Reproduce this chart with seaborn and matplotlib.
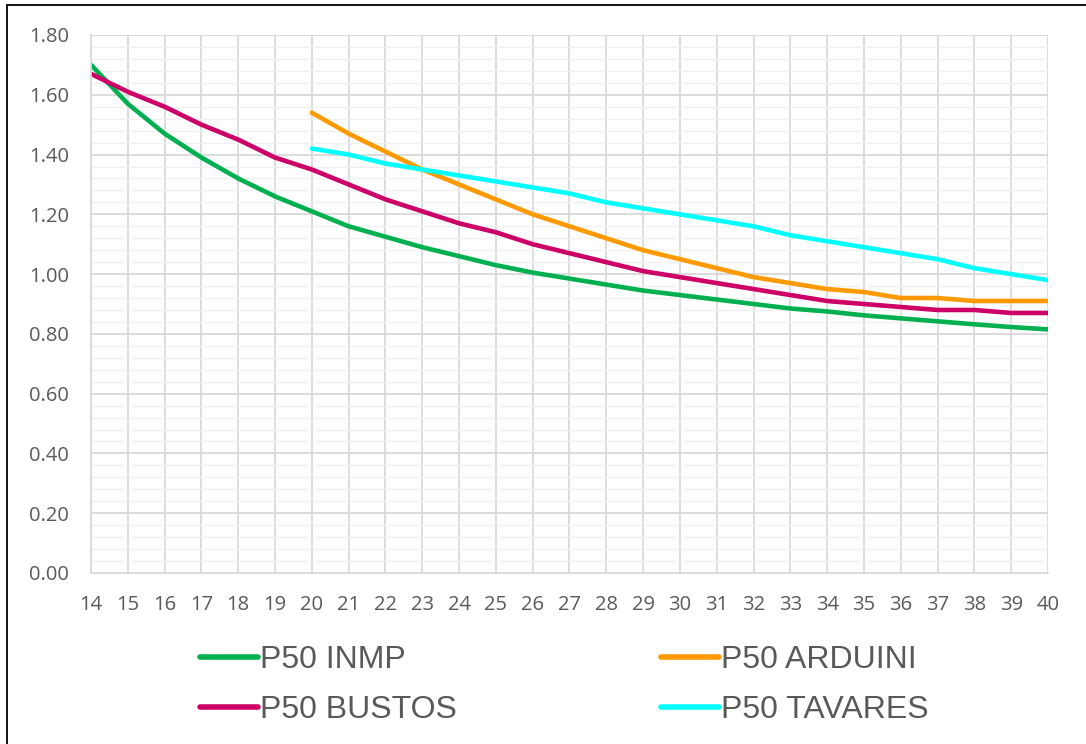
import numpy as np
import pandas as pd
import matplotlib
matplotlib.use('Agg')
import matplotlib.pyplot as plt
from matplotlib.patches import Rectangle
from matplotlib.ticker import MultipleLocator
import seaborn as sns

# data
ages = list(range(14, 41))
ages_late = list(range(20, 41))

p50_inmp = [1.70, 1.57, 1.47, 1.39, 1.32, 1.26, 1.21, 1.16, 1.125, 1.09,
            1.06, 1.03, 1.005, 0.985, 0.965, 0.945, 0.93, 0.915, 0.90, 0.885,
            0.875, 0.862, 0.852, 0.842, 0.832, 0.823, 0.815]
p50_bustos = [1.67, 1.61, 1.56, 1.50, 1.45, 1.39, 1.35, 1.30, 1.25, 1.21,
              1.17, 1.14, 1.10, 1.07, 1.04, 1.01, 0.99, 0.97, 0.95, 0.93,
              0.91, 0.90, 0.89, 0.88, 0.88, 0.87, 0.87]
p50_arduini = [1.54, 1.47, 1.41, 1.35, 1.30, 1.25, 1.20, 1.16, 1.12, 1.08,
               1.05, 1.02, 0.99, 0.97, 0.95, 0.94, 0.92, 0.92, 0.91, 0.91, 0.91]
p50_tavares = [1.42, 1.40, 1.37, 1.35, 1.33, 1.31, 1.29, 1.27, 1.24, 1.22,
               1.20, 1.18, 1.16, 1.13, 1.11, 1.09, 1.07, 1.05, 1.02, 1.00, 0.98]

series_names = ['P50 INMP', 'P50 BUSTOS', 'P50 ARDUINI', 'P50 TAVARES']
series_colors = ['#00B050', '#CC0066', '#FF9900', '#00FFFF']

# long table for seaborn
df = pd.concat([
    pd.DataFrame({'age': ages, 'value': p50_inmp, 'serie': 'P50 INMP'}),
    pd.DataFrame({'age': ages, 'value': p50_bustos, 'serie': 'P50 BUSTOS'}),
    pd.DataFrame({'age': ages_late, 'value': p50_arduini, 'serie': 'P50 ARDUINI'}),
    pd.DataFrame({'age': ages_late, 'value': p50_tavares, 'serie': 'P50 TAVARES'}),
])

sns.set_theme(style="white")
plt.rcParams['font.family'] = ['Open Sans', 'DejaVu Sans']

fig = plt.figure(figsize=(10.86, 7.44), dpi=100)
ax = fig.add_axes([91 / 1086, 1 - 573 / 744, (1048 - 91) / 1086, (573 - 35) / 744])

sns.lineplot(
    data=df, x='age', y='value', hue='serie',
    hue_order=series_names, palette=series_colors,
    linewidth=3.3, ax=ax, legend=False,
)

# axes and grid
ax.set_xlim(14, 40)
ax.set_ylim(0, 1.8)
ax.xaxis.set_major_locator(MultipleLocator(1))
ax.yaxis.set_major_locator(MultipleLocator(0.2))
ax.yaxis.set_minor_locator(MultipleLocator(0.04))
ax.grid(which='major', color='#D9D9D9', linewidth=1.3)
ax.grid(which='minor', axis='y', color='#F0F0F0', linewidth=1.0)
ax.set_axisbelow(True)
ax.yaxis.set_major_formatter(plt.FuncFormatter(lambda v, p: f'{v:.2f}'))
ax.tick_params(axis='y', which='both', length=0, pad=16, labelsize=14.5, labelcolor='#595959')
ax.tick_params(axis='x', which='both', length=0, pad=16, labelsize=14.5, labelcolor='#595959')
for side in ['top', 'right']:
    ax.spines[side].set_visible(False)
for side in ['left', 'bottom']:
    ax.spines[side].set_color('#D9D9D9')
    ax.spines[side].set_linewidth(1.3)
ax.set_xlabel('')
ax.set_ylabel('')

# legend below the plot, two columns
handles = [plt.Line2D([], [], color=c, linewidth=4, solid_capstyle='round') for c in series_colors]
fig.legend(
    handles, series_names, ncol=2, loc='upper left',
    bbox_to_anchor=(200 / 1086, 1 - 645 / 744), frameon=False,
    prop={'family': 'Liberation Sans', 'size': 23},
    labelcolor='#595959', handlelength=1.8, handletextpad=0.08,
    columnspacing=6.4, labelspacing=0.62, borderpad=0, borderaxespad=0,
)

# thin outer frame like the source chart
fig.patches.append(Rectangle((7 / 1086, -0.1), 2, 1 - 5 / 744 + 0.1,
                             transform=fig.transFigure, fill=False,
                             edgecolor='black', linewidth=1.3))

plt.savefig('out.png', dpi=100)
